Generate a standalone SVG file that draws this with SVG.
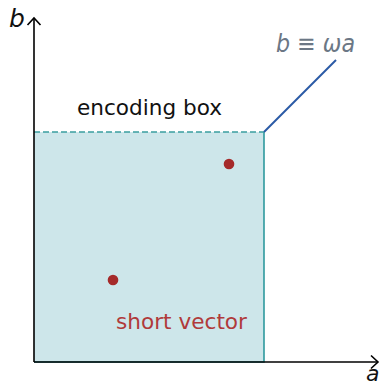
<svg xmlns="http://www.w3.org/2000/svg" width="386" height="386" viewBox="0 0 386 386">
<style>
.t{font-family:"DejaVu Sans","Liberation Sans",sans-serif;}
.m{font-family:"DejaVu Sans","Liberation Sans",sans-serif;font-style:oblique;}
.ax{stroke:#000;stroke-width:1.6;fill:none;}
.pt{fill:#a52a2a;}
</style>
<rect width="386" height="386" fill="#fff"/>
<g id="encoding-box">
<rect x="34" y="132" width="230" height="230" fill="#cde6ea"/>
<path d="M34,362 H264 V132" fill="none" stroke="#2f9a9e" stroke-width="1.6"/>
<line x1="34" y1="132" x2="264" y2="132" stroke="#3a9ea0" stroke-width="1.4" stroke-dasharray="6,3"/>
<text class="t" x="77" y="115" font-size="21" fill="#111" textLength="145" lengthAdjust="spacingAndGlyphs">encoding box</text>
</g>
<g id="connectors">
<line class="ax" x1="34" y1="362" x2="34" y2="18"/>
<polyline class="ax" points="27.5,25 34,18 40.5,25"/>
<line class="ax" x1="34" y1="362" x2="378" y2="362"/>
<polyline class="ax" points="371,355.5 378,362 371,368.5"/>
<line x1="264" y1="132" x2="336" y2="60" stroke="#2a5aa6" stroke-width="2"/>
</g>
<g id="axis-b"><text class="m" x="9" y="27" font-size="25" fill="#111">b</text></g>
<g id="axis-a"><text class="m" x="366" y="381" font-size="22" fill="#111">a</text></g>
<g id="line-label"><text class="m" x="276" y="52" font-size="25" fill="#6b7785" textLength="79" lengthAdjust="spacingAndGlyphs">b ≡ ωa</text></g>
<g id="point-1"><circle class="pt" cx="229" cy="164" r="5.3"/></g>
<g id="point-2"><circle class="pt" cx="113" cy="280" r="5.3"/></g>
<g id="short-vector"><text class="t" x="116" y="329" font-size="21" fill="#b03a3a" textLength="131" lengthAdjust="spacingAndGlyphs">short vector</text></g>
</svg>
